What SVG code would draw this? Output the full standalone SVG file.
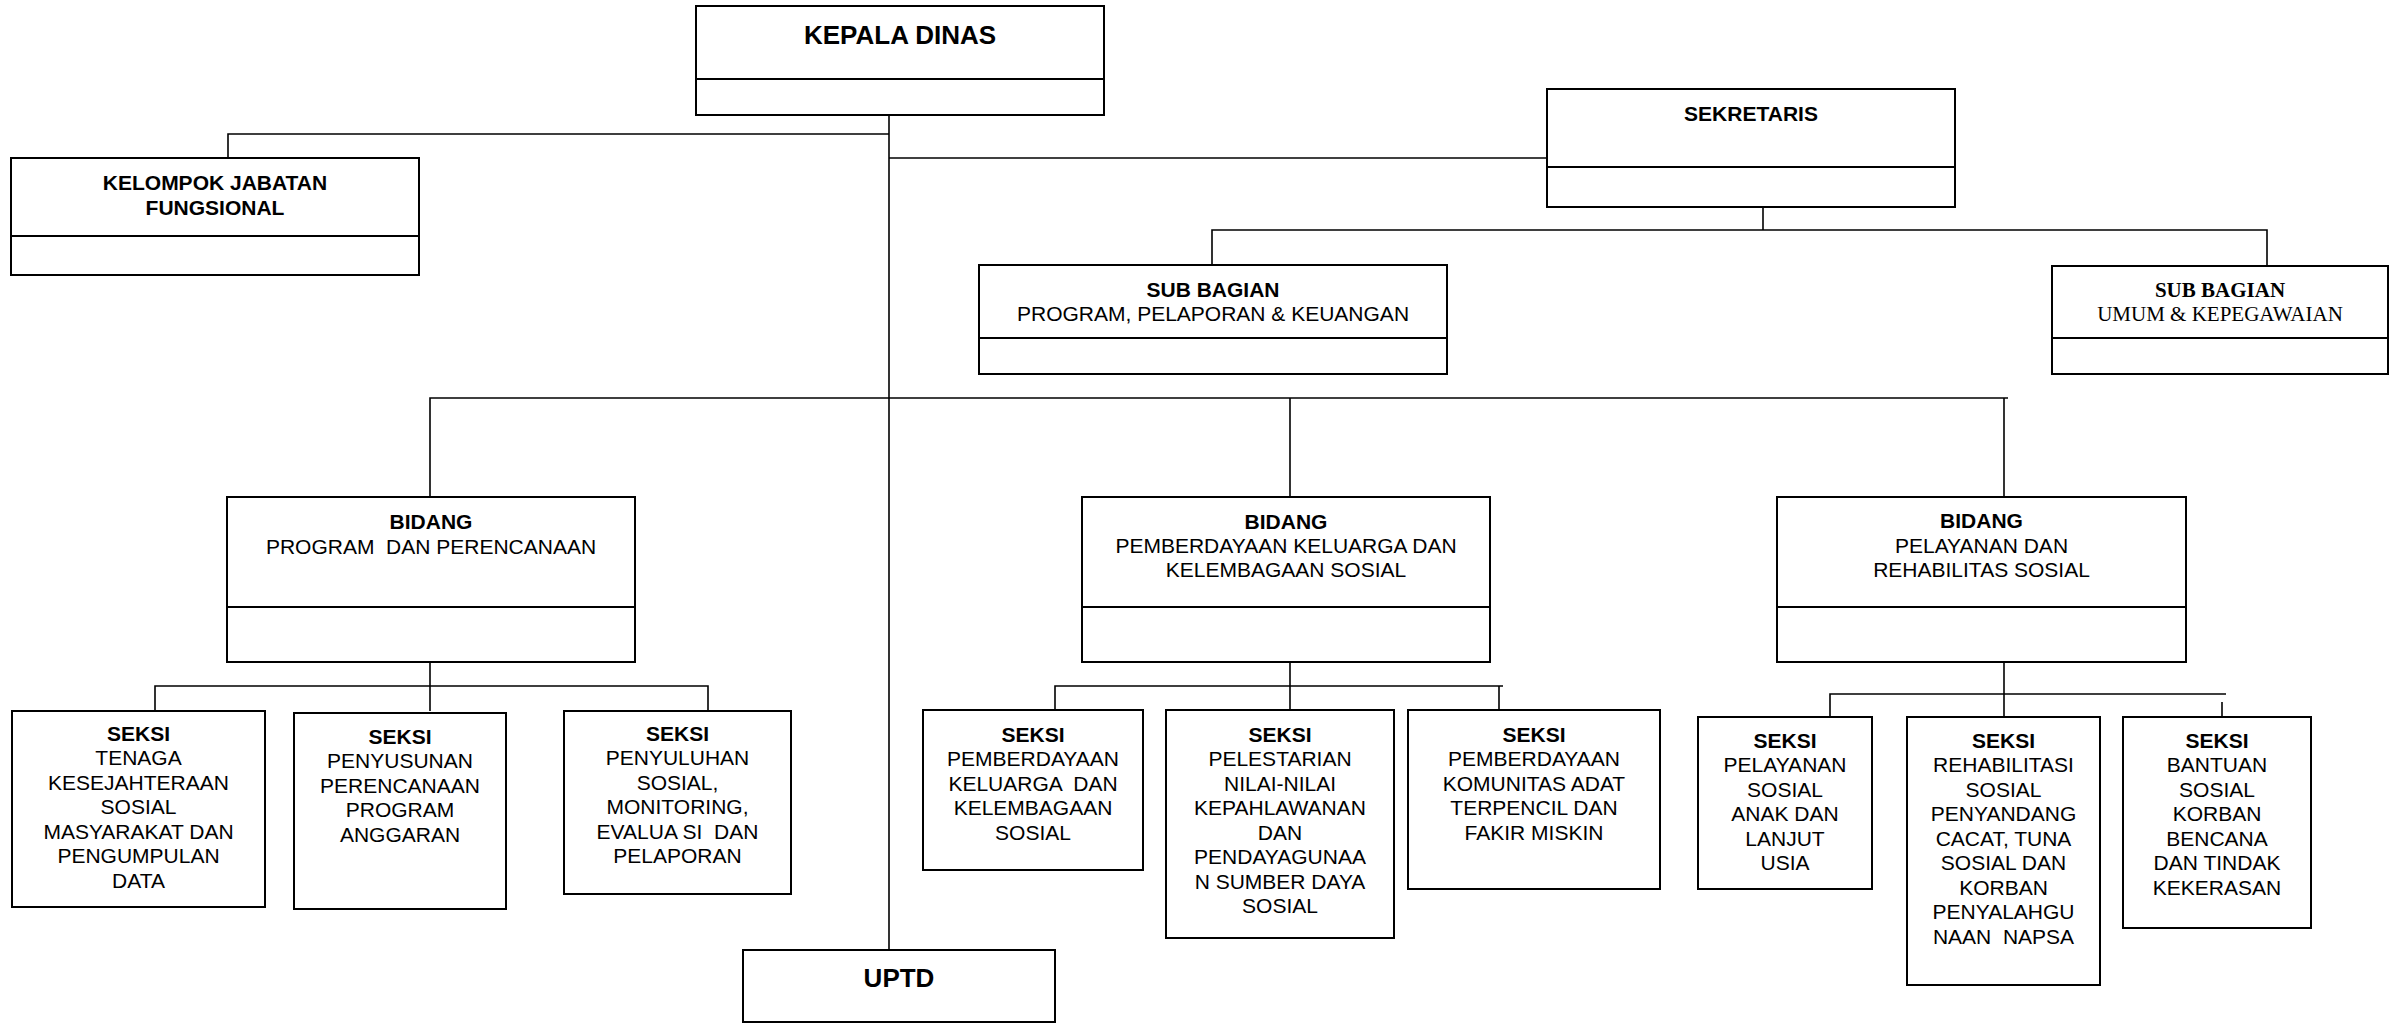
<svg xmlns="http://www.w3.org/2000/svg" width="2393" height="1023" viewBox="0 0 2393 1023">
<style>
.box{fill:#fff;stroke:#000;stroke-width:2}
.div{stroke:#000;stroke-width:2}
.con{stroke:#000;stroke-width:1.6;fill:none}
text{font-family:"Liberation Sans",Arial,sans-serif;font-size:21px;fill:#000;text-anchor:middle}
.b{font-weight:bold}
.serif{font-family:"Liberation Serif","Times New Roman",serif}
</style>
<rect width="2393" height="1023" fill="#fff"/>
<g id="connectors">
<path class="con" d="M889 115V950"/>
<path class="con" d="M228 158V134H889"/>
<path class="con" d="M889 158H1547"/>
<path class="con" d="M1763 207V230"/>
<path class="con" d="M1212 265V230H2267V266"/>
<path class="con" d="M430 497V398H2008"/>
<path class="con" d="M1290 398V497"/>
<path class="con" d="M2004 398V497"/>
<path class="con" d="M430 662V711"/>
<path class="con" d="M155 711V686H708V711"/>
<path class="con" d="M1290 662V710"/>
<path class="con" d="M1055 710V686H1503"/>
<path class="con" d="M1499 686V710"/>
<path class="con" d="M2004 662V717"/>
<path class="con" d="M1830 717V694H2226"/>
<path class="con" d="M2222 702V717"/>
</g>
<g id="kepala-dinas">
<rect class="box" x="696" y="6" width="408" height="109"/>
<line class="div" x1="696" y1="79" x2="1104" y2="79"/>
<text class="b" x="900" y="44" style="font-size:26px">KEPALA DINAS</text>
</g>
<g id="kelompok-jabatan-fungsional">
<rect class="box" x="11" y="158" width="408" height="117"/>
<line class="div" x1="11" y1="236" x2="419" y2="236"/>
<text class="b" x="215" y="189.5">KELOMPOK JABATAN</text>
<text class="b" x="215" y="214.5">FUNGSIONAL</text>
</g>
<g id="sekretaris">
<rect class="box" x="1547" y="89" width="408" height="118"/>
<line class="div" x1="1547" y1="167" x2="1955" y2="167"/>
<text class="b" x="1751" y="120.5">SEKRETARIS</text>
</g>
<g id="sub-bagian-program">
<rect class="box" x="979" y="265" width="468" height="109"/>
<line class="div" x1="979" y1="338" x2="1447" y2="338"/>
<text class="b" x="1213" y="296.5">SUB BAGIAN</text>
<text x="1213" y="320.5">PROGRAM, PELAPORAN &amp; KEUANGAN</text>
</g>
<g id="sub-bagian-umum">
<rect class="box" x="2052" y="266" width="336" height="108"/>
<line class="div" x1="2052" y1="338" x2="2388" y2="338"/>
<text class="b serif" x="2220" y="296.5">SUB BAGIAN</text>
<text class="serif" x="2220" y="320.5">UMUM &amp; KEPEGAWAIAN</text>
</g>
<g id="bidang-program">
<rect class="box" x="227" y="497" width="408" height="165"/>
<line class="div" x1="227" y1="607" x2="635" y2="607"/>
<text class="b" x="431" y="528.5">BIDANG</text>
<text x="431" y="553.5" xml:space="preserve">PROGRAM  DAN PERENCANAAN</text>
</g>
<g id="bidang-pemberdayaan">
<rect class="box" x="1082" y="497" width="408" height="165"/>
<line class="div" x1="1082" y1="607" x2="1490" y2="607"/>
<text class="b" x="1286" y="528.5">BIDANG</text>
<text x="1286" y="552.5">PEMBERDAYAAN KELUARGA DAN</text>
<text x="1286" y="576.5">KELEMBAGAAN SOSIAL</text>
</g>
<g id="bidang-pelayanan">
<rect class="box" x="1777" y="497" width="409" height="165"/>
<line class="div" x1="1777" y1="607" x2="2186" y2="607"/>
<text class="b" x="1981.5" y="528">BIDANG</text>
<text x="1981.5" y="552.5">PELAYANAN DAN</text>
<text x="1981.5" y="577">REHABILITAS SOSIAL</text>
</g>
<g id="seksi-tenaga">
<rect class="box" x="12" y="711" width="253" height="196"/>
<text class="b" x="138.5" y="740.5">SEKSI</text>
<text x="138.5" y="765">TENAGA</text>
<text x="138.5" y="789.5">KESEJAHTERAAN</text>
<text x="138.5" y="814">SOSIAL</text>
<text x="138.5" y="838.5">MASYARAKAT DAN</text>
<text x="138.5" y="863">PENGUMPULAN</text>
<text x="138.5" y="887.5">DATA</text>
</g>
<g id="seksi-penyusunan">
<rect class="box" x="294" y="713" width="212" height="196"/>
<text class="b" x="400" y="743.5">SEKSI</text>
<text x="400" y="768">PENYUSUNAN</text>
<text x="400" y="792.5">PERENCANAAN</text>
<text x="400" y="817">PROGRAM</text>
<text x="400" y="841.5">ANGGARAN</text>
</g>
<g id="seksi-penyuluhan">
<rect class="box" x="564" y="711" width="227" height="183"/>
<text class="b" x="677.5" y="740.5">SEKSI</text>
<text x="677.5" y="765">PENYULUHAN</text>
<text x="677.5" y="789.5">SOSIAL,</text>
<text x="677.5" y="814">MONITORING,</text>
<text x="677.5" y="838.5" xml:space="preserve">EVALUA SI  DAN</text>
<text x="677.5" y="863">PELAPORAN</text>
</g>
<g id="seksi-pemberdayaan-keluarga">
<rect class="box" x="923" y="710" width="220" height="160"/>
<text class="b" x="1033" y="741.5">SEKSI</text>
<text x="1033" y="766">PEMBERDAYAAN</text>
<text x="1033" y="790.5" xml:space="preserve">KELUARGA  DAN</text>
<text x="1033" y="815">KELEMBAGAAN</text>
<text x="1033" y="839.5">SOSIAL</text>
</g>
<g id="seksi-pelestarian">
<rect class="box" x="1166" y="710" width="228" height="228"/>
<text class="b" x="1280" y="741.5">SEKSI</text>
<text x="1280" y="766">PELESTARIAN</text>
<text x="1280" y="790.5">NILAI-NILAI</text>
<text x="1280" y="815">KEPAHLAWANAN</text>
<text x="1280" y="839.5">DAN</text>
<text x="1280" y="864">PENDAYAGUNAA</text>
<text x="1280" y="888.5">N SUMBER DAYA</text>
<text x="1280" y="913">SOSIAL</text>
</g>
<g id="seksi-komunitas-adat">
<rect class="box" x="1408" y="710" width="252" height="179"/>
<text class="b" x="1534" y="741.5">SEKSI</text>
<text x="1534" y="766">PEMBERDAYAAN</text>
<text x="1534" y="790.5">KOMUNITAS ADAT</text>
<text x="1534" y="815">TERPENCIL DAN</text>
<text x="1534" y="839.5">FAKIR MISKIN</text>
</g>
<g id="seksi-pelayanan-anak">
<rect class="box" x="1698" y="717" width="174" height="172"/>
<text class="b" x="1785" y="747.5">SEKSI</text>
<text x="1785" y="772">PELAYANAN</text>
<text x="1785" y="796.5">SOSIAL</text>
<text x="1785" y="821">ANAK DAN</text>
<text x="1785" y="845.5">LANJUT</text>
<text x="1785" y="870">USIA</text>
</g>
<g id="seksi-rehabilitasi">
<rect class="box" x="1907" y="717" width="193" height="268"/>
<text class="b" x="2003.5" y="747.5">SEKSI</text>
<text x="2003.5" y="772">REHABILITASI</text>
<text x="2003.5" y="796.5">SOSIAL</text>
<text x="2003.5" y="821">PENYANDANG</text>
<text x="2003.5" y="845.5">CACAT, TUNA</text>
<text x="2003.5" y="870">SOSIAL DAN</text>
<text x="2003.5" y="894.5">KORBAN</text>
<text x="2003.5" y="919">PENYALAHGU</text>
<text x="2003.5" y="943.5" xml:space="preserve">NAAN  NAPSA</text>
</g>
<g id="seksi-bantuan-sosial">
<rect class="box" x="2123" y="717" width="188" height="211"/>
<text class="b" x="2217" y="747.5">SEKSI</text>
<text x="2217" y="772">BANTUAN</text>
<text x="2217" y="796.5">SOSIAL</text>
<text x="2217" y="821">KORBAN</text>
<text x="2217" y="845.5">BENCANA</text>
<text x="2217" y="870">DAN TINDAK</text>
<text x="2217" y="894.5">KEKERASAN</text>
</g>
<g id="uptd">
<rect class="box" x="743" y="950" width="312" height="72"/>
<text class="b" x="899" y="986.5" style="font-size:26px">UPTD</text>
</g>
</svg>
